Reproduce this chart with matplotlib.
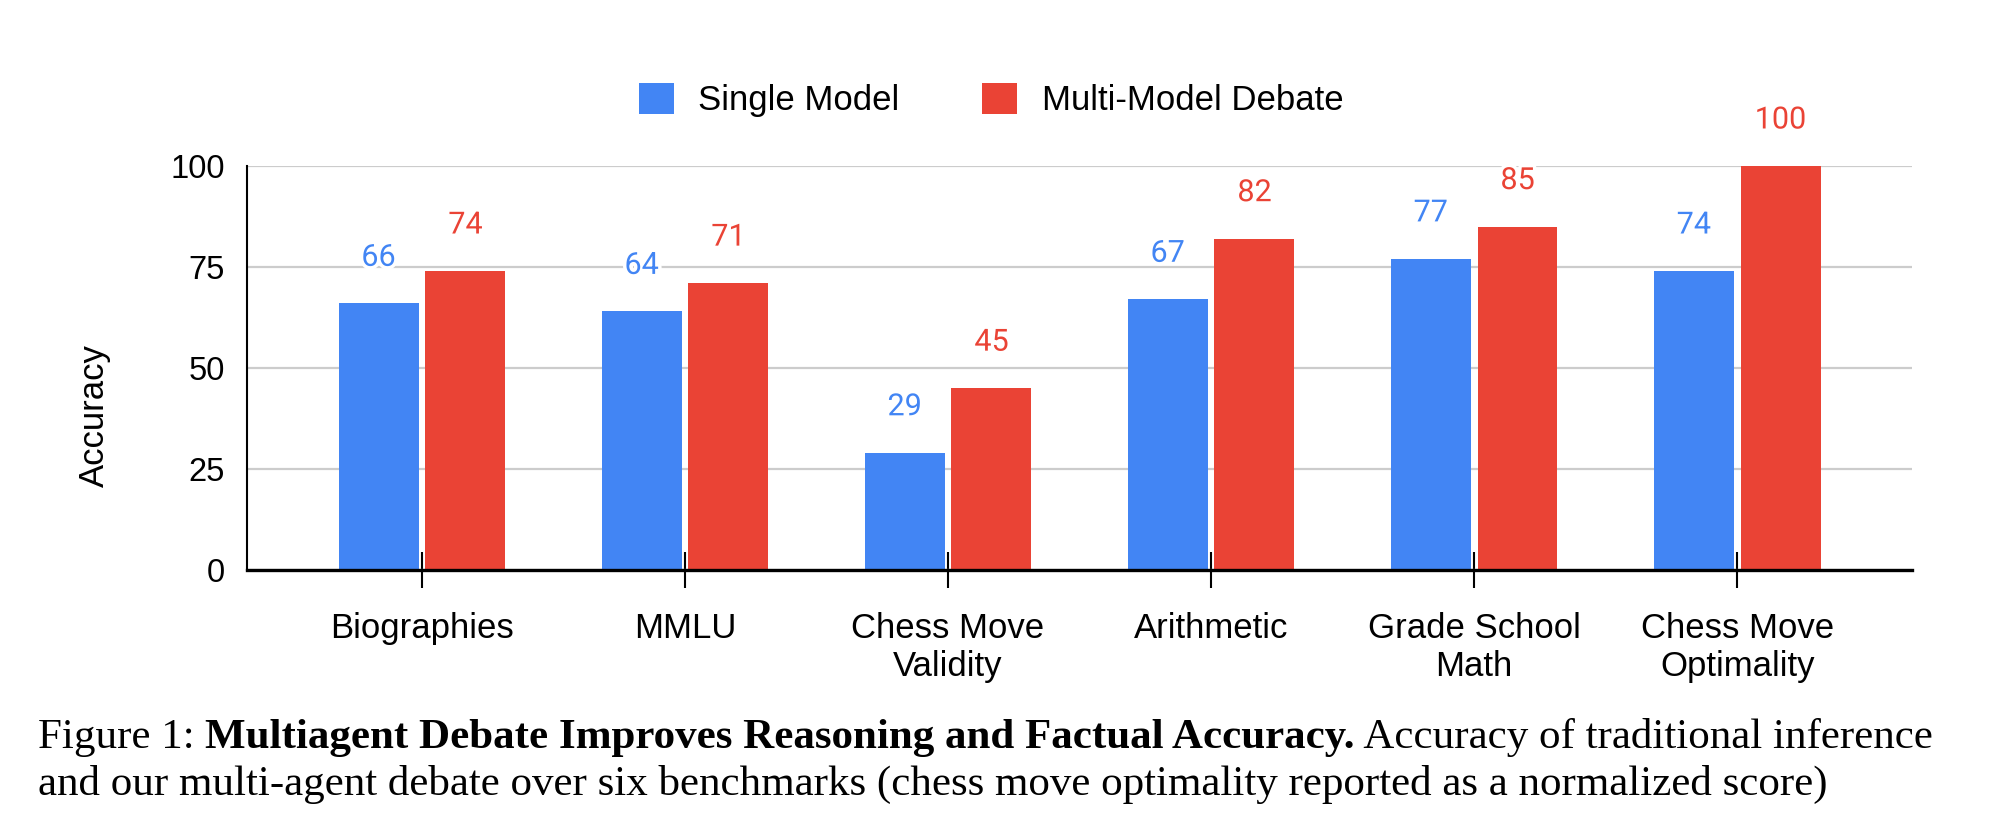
import numpy as np
import matplotlib.pyplot as plt
import matplotlib.patheffects as pe

categories = ['Biographies', 'MMLU', 'Chess Move\nValidity', 'Arithmetic',
              'Grade School\nMath', 'Chess Move\nOptimality']
single_model = [66, 64, 29, 67, 77, 74]
debate_model = [74, 71, 45, 82, 85, 100]
series_names = ['Single Model', 'Multi-Model Debate']
y_ticks = [0, 25, 50, 75, 100]

blue = '#4285F4'
red = '#EA4335'

fig = plt.figure(figsize=(19.94, 8.27), dpi=100)
ax = fig.add_axes([0.1239, 0.3108, 0.835, 0.4885])

x = np.arange(len(categories))
off = 0.165
w = 0.304
b1 = ax.bar(x - off, single_model, width=w, color=blue, zorder=3, label=series_names[0])
b2 = ax.bar(x + off, debate_model, width=w, color=red, zorder=3, label=series_names[1])

# value labels above bars
halo = [pe.withStroke(linewidth=5, foreground='white')]
for bars, vals, col in [(b1, single_model, blue), (b2, debate_model, red)]:
    for rect, v in zip(bars, vals):
        ax.annotate(f'{v:.0f}', (rect.get_x() + rect.get_width() / 2, v),
                    xytext=(0, 27), textcoords='offset points',
                    ha='center', va='baseline', color=col, fontsize=22,
                    family='Roboto', annotation_clip=False, zorder=4,
                    path_effects=halo)

ax.set_xlim(-0.665, len(categories) - 1 + 0.665)
ax.set_ylim(0, 100)
ax.set_yticks(y_ticks)
ax.yaxis.grid(True, color='#cccccc', linewidth=1.6, zorder=0)
ax.set_axisbelow(True)

ax.set_xticks(x)
ax.set_xticklabels(categories, family='Liberation Sans', fontsize=25, linespacing=1.2)
ax.tick_params(axis='x', direction='inout', length=26, width=1.5, pad=17)
ax.tick_params(axis='y', length=0, pad=16, labelsize=23.5)
for lab in ax.get_yticklabels():
    lab.set_family('Liberation Sans')

for s in ['top', 'right']:
    ax.spines[s].set_visible(False)
ax.spines['left'].set_linewidth(1.5)
ax.spines['bottom'].set_linewidth(2.4)
ax.spines['bottom'].set_zorder(5)

fig.text(94 / 1994, 1 - 416 / 827, 'Accuracy', rotation=90, ha='center', va='center',
         fontsize=25, family='Liberation Sans')

fig.legend(handles=[b1, b2], labels=series_names, loc='center',
           bbox_to_anchor=(0.497, 1 - 100 / 827), ncol=2, frameon=False,
           prop={'family': 'Liberation Sans', 'size': 25},
           handlelength=1.0, handleheight=1.0, handletextpad=0.7, columnspacing=2.4)

# caption
fig.canvas.draw()
renderer = fig.canvas.get_renderer()
cap_size = 31
x0 = 38 / 1994
y1 = 1 - 748 / 827
y2 = 1 - 795 / 827
pieces = [('Figure 1: ', 'normal'),
          ('Multiagent Debate Improves Reasoning and Factual Accuracy.', 'bold'),
          (' Accuracy of traditional inference', 'normal')]
xp = x0
for txt, wt in pieces:
    t = fig.text(xp, y1, txt, fontsize=cap_size, family='Liberation Serif',
                 weight=wt, va='baseline', ha='left')
    bb = t.get_window_extent(renderer)
    xp = bb.x1 / fig.bbox.width
fig.text(x0, y2, 'and our multi-agent debate over six benchmarks (chess move optimality '
         'reported as a normalized score)', fontsize=cap_size, family='Liberation Serif',
         va='baseline', ha='left')

fig.savefig('out.png', dpi=100, facecolor='white')
